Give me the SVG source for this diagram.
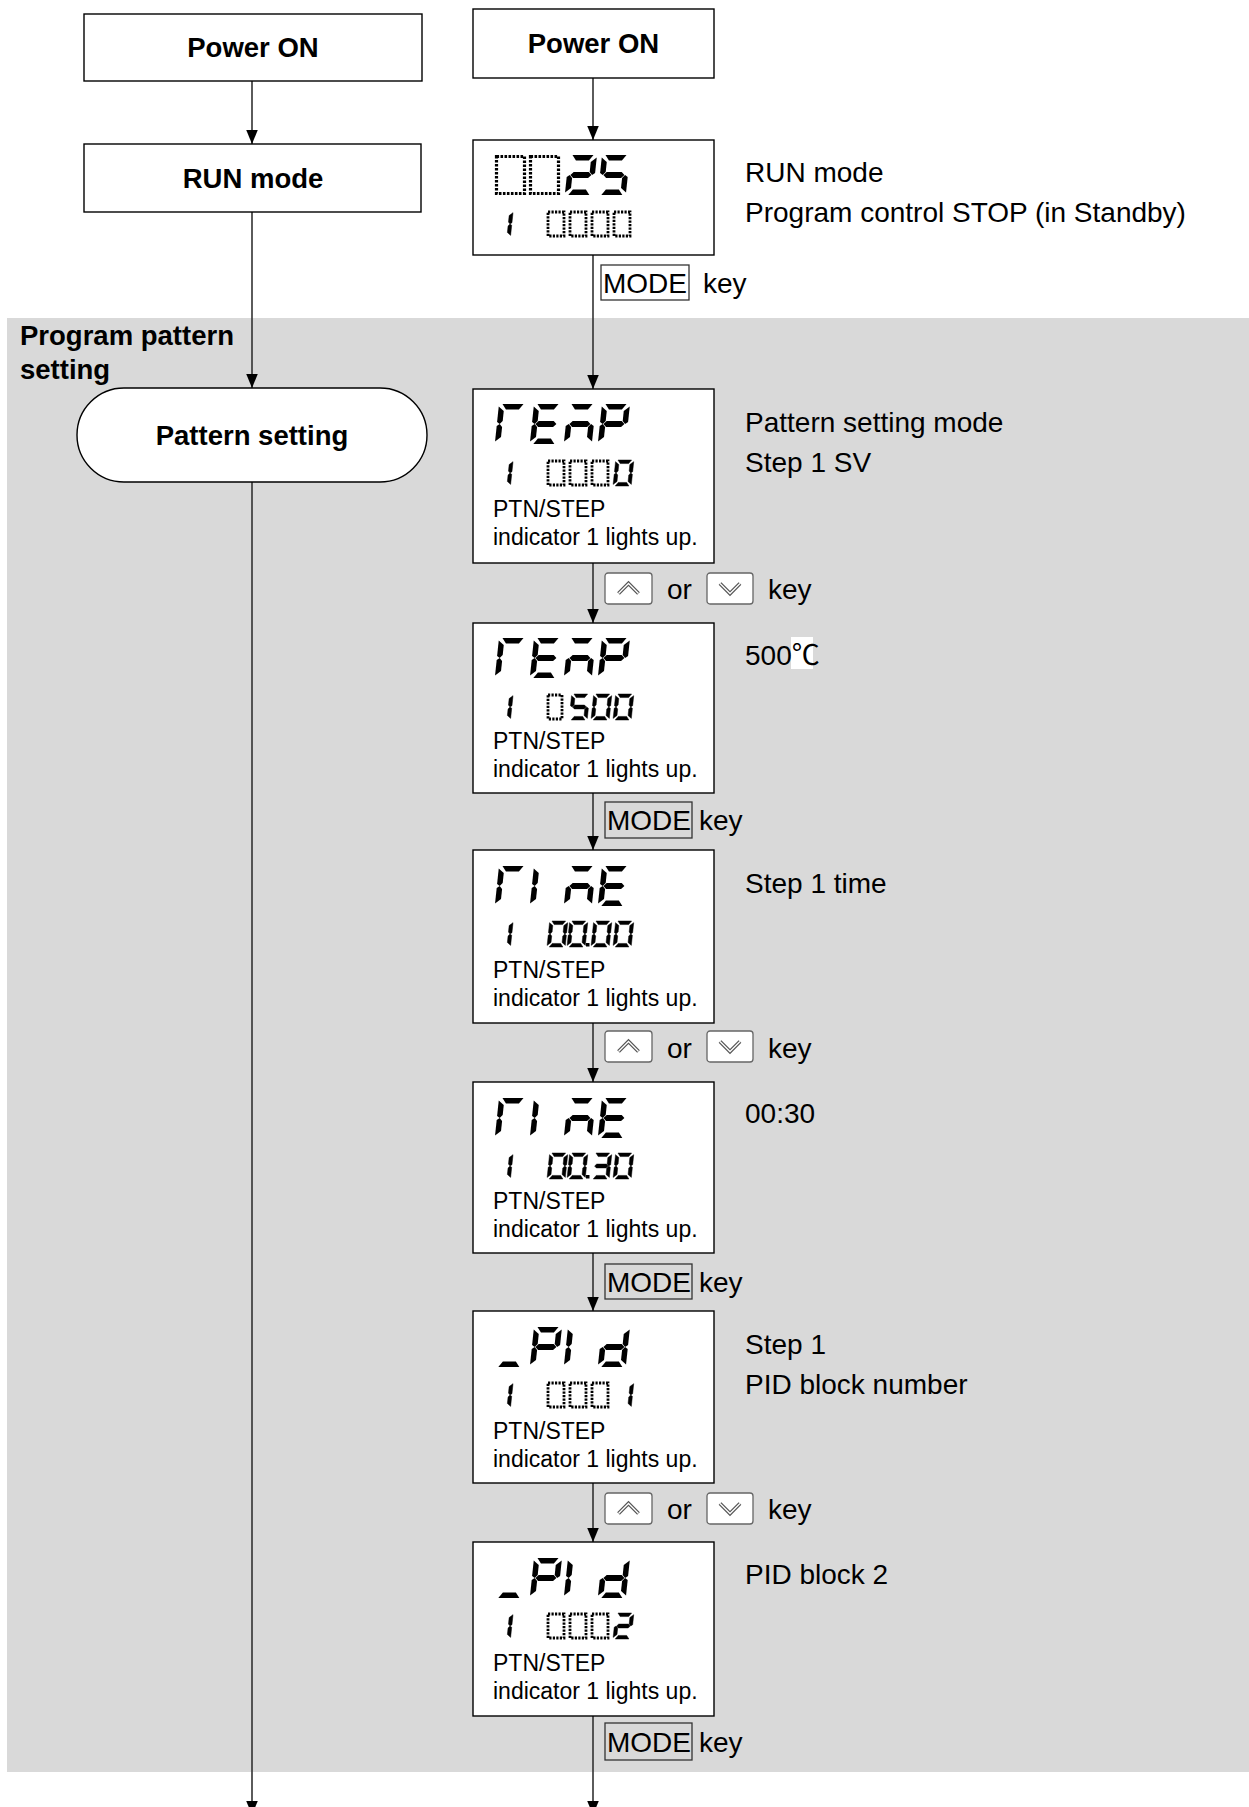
<svg xmlns="http://www.w3.org/2000/svg" xmlns:xlink="http://www.w3.org/1999/xlink" width="1249" height="1807" viewBox="0 0 1249 1807">
<style>
.t{font-family:"Liberation Sans",Arial,"Noto Sans CJK JP",sans-serif;font-size:28px;fill:#000}
.b{font-weight:bold;font-size:27.5px}
.sm{font-size:23px}
.box{fill:#fff;stroke:#000;stroke-width:1.4}
.conn{stroke:#333;stroke-width:1.6;fill:none}
.key{fill:#fff;stroke:#666;stroke-width:1.3}
.chev{fill:none;stroke:#555;stroke-width:3.8;stroke-linejoin:miter}
.chevi{fill:none;stroke:#fff;stroke-width:1.3}
.mode{fill:none;stroke:#333;stroke-width:1.3}
.dotL{fill:none;stroke:#000;stroke-width:3.2;stroke-dasharray:2.6 1.4}
.dotS{fill:none;stroke:#000;stroke-width:2.8;stroke-dasharray:2.2 1.3}
.seg{fill:#000}
.s7{stroke:#000;stroke-width:0.7;stroke-linejoin:round}
</style>
<defs>
<marker id="arr" viewBox="0 0 17 14" markerWidth="14" markerHeight="17" refX="17" refY="7" orient="auto" markerUnits="userSpaceOnUse">
<path d="M0,0 L17,7 L0,14 Z" fill="#000"/>
</marker>
<polygon id="sa" class="seg" points="3.5,0 24.5,0 20.5,5.5 7.5,5.5"/>
<polygon id="sf" class="seg" points="0,2.5 5.5,7 5.5,17 2.8,20 0,18"/>
<polygon id="sb" class="seg" points="28,2.5 28,18 25.2,20 22.5,17 22.5,7"/>
<polygon id="sg" class="seg" points="3.5,20 6.5,17 21.5,17 24.5,20 21.5,23 6.5,23"/>
<polygon id="se" class="seg" points="0,22 2.8,20 5.5,23 5.5,33 0,37.5"/>
<polygon id="sc" class="seg" points="28,22 28,37.5 22.5,33 22.5,23 25.2,20"/>
<polygon id="sd" class="seg" points="7.5,34.5 20.5,34.5 24.5,40 3.5,40"/>
<g id="cT"><use xlink:href="#sa"/><use xlink:href="#sf"/><use xlink:href="#se"/></g>
<g id="cE"><use xlink:href="#sa"/><use xlink:href="#sf"/><use xlink:href="#sg"/><use xlink:href="#se"/><use xlink:href="#sd"/></g>
<g id="cM"><use xlink:href="#sa"/><use xlink:href="#sg"/><use xlink:href="#se"/><use xlink:href="#sc"/></g>
<g id="cP"><use xlink:href="#sa"/><use xlink:href="#sb"/><use xlink:href="#sf"/><use xlink:href="#sg"/><use xlink:href="#se"/></g>
<g id="cI"><use xlink:href="#sf"/><use xlink:href="#se"/></g>
<g id="cU"><use xlink:href="#sd"/></g>
<g id="cd"><use xlink:href="#sb"/><use xlink:href="#sc"/><use xlink:href="#sd"/><use xlink:href="#se"/><use xlink:href="#sg"/></g>
<g id="c0"><use xlink:href="#sa"/><use xlink:href="#sb"/><use xlink:href="#sc"/><use xlink:href="#sd"/><use xlink:href="#se"/><use xlink:href="#sf"/></g>
<g id="c1"><use xlink:href="#sb"/><use xlink:href="#sc"/></g>
<g id="c2"><use xlink:href="#sa"/><use xlink:href="#sb"/><use xlink:href="#sg"/><use xlink:href="#se"/><use xlink:href="#sd"/></g>
<g id="c3"><use xlink:href="#sa"/><use xlink:href="#sb"/><use xlink:href="#sg"/><use xlink:href="#sc"/><use xlink:href="#sd"/></g>
<g id="c5"><use xlink:href="#sa"/><use xlink:href="#sf"/><use xlink:href="#sg"/><use xlink:href="#sc"/><use xlink:href="#sd"/></g>
<g id="upkey"><rect class="key" x="0" y="0" width="47" height="31" rx="3"/><polyline class="chev" points="13.5,20.5 23.5,10.5 33.5,20.5"/><polyline class="chevi" points="13.5,20.5 23.5,10.5 33.5,20.5"/></g>
<g id="dnkey"><rect class="key" x="0" y="0" width="46" height="31" rx="3"/><polyline class="chev" points="13,10.5 23,20.5 33,10.5"/><polyline class="chevi" points="13,10.5 23,20.5 33,10.5"/></g>
</defs>

<rect id="shade" x="7" y="318" width="1242" height="1454" fill="#d9d9d9"/>

<g id="connectors">
<line class="conn" x1="252" y1="81" x2="252" y2="144" marker-end="url(#arr)"/>
<line class="conn" x1="252" y1="212" x2="252" y2="388" marker-end="url(#arr)"/>
<line class="conn" x1="252" y1="482" x2="252" y2="1815" marker-end="url(#arr)"/>
<line class="conn" x1="593" y1="78" x2="593" y2="140" marker-end="url(#arr)"/>
<line class="conn" x1="593" y1="255" x2="593" y2="389" marker-end="url(#arr)"/>
<line class="conn" x1="593" y1="563" x2="593" y2="623" marker-end="url(#arr)"/>
<line class="conn" x1="593" y1="793" x2="593" y2="850" marker-end="url(#arr)"/>
<line class="conn" x1="593" y1="1023" x2="593" y2="1082" marker-end="url(#arr)"/>
<line class="conn" x1="593" y1="1253" x2="593" y2="1311" marker-end="url(#arr)"/>
<line class="conn" x1="593" y1="1483" x2="593" y2="1542" marker-end="url(#arr)"/>
<line class="conn" x1="593" y1="1716" x2="593" y2="1815" marker-end="url(#arr)"/>
</g>

<g id="left-power-on">
<rect class="box" x="84" y="14" width="338" height="67"/>
<text class="t b" x="253" y="57" text-anchor="middle">Power ON</text>
</g>
<g id="left-run-mode">
<rect class="box" x="84" y="144" width="337" height="68"/>
<text class="t b" x="253" y="188" text-anchor="middle">RUN mode</text>
</g>
<g id="section-label">
<text class="t b" x="20" y="345">Program pattern</text>
<text class="t b" x="20" y="379">setting</text>
</g>
<g id="pattern-setting">
<rect class="box" x="77" y="388" width="350" height="94" rx="47" ry="47"/>
<text class="t b" x="252" y="445" text-anchor="middle">Pattern setting</text>
</g>

<g id="right-power-on">
<rect class="box" x="473" y="9" width="241" height="69"/>
<text class="t b" x="593.5" y="53" text-anchor="middle">Power ON</text>
</g>

<g id="disp1">
<rect class="box" x="473" y="140" width="241" height="115"/>
<rect class="dotL" x="496.5" y="156.5" width="28" height="37"/>
<rect class="dotL" x="530.5" y="156.5" width="28" height="37"/>
<use xlink:href="#c2" transform="translate(569,155) skewX(-6)"/>
<use xlink:href="#c5" transform="translate(602,155) skewX(-6)"/>
<use class="s7" xlink:href="#c1" transform="translate(495,211) skewX(-6) scale(0.65)"/>
<rect class="dotS" x="548" y="212" width="16" height="24"/>
<rect class="dotS" x="570" y="212" width="16" height="24"/>
<rect class="dotS" x="592" y="212" width="16" height="24"/>
<rect class="dotS" x="614" y="212" width="16" height="24"/>
</g>
<g id="desc1">
<text class="t" x="745" y="182">RUN mode</text>
<text class="t" x="745" y="222">Program control STOP (in Standby)</text>
</g>
<g id="modekey1">
<rect class="mode" x="601" y="265" width="88" height="35"/>
<text class="t" x="603" y="293">MODE</text>
<text class="t" x="703" y="293">key</text>
</g>

<g id="disp2">
<rect class="box" x="473" y="389" width="241" height="174"/>
<use xlink:href="#cT" transform="translate(499,404) skewX(-6)"/>
<use xlink:href="#cE" transform="translate(534,404) skewX(-6)"/>
<use xlink:href="#cM" transform="translate(568,404) skewX(-6)"/>
<use xlink:href="#cP" transform="translate(602,404) skewX(-6)"/>
<use class="s7" xlink:href="#c1" transform="translate(495,460) skewX(-6) scale(0.65)"/>
<rect class="dotS" x="548" y="461" width="16" height="24"/>
<rect class="dotS" x="570" y="461" width="16" height="24"/>
<rect class="dotS" x="592" y="461" width="16" height="24"/>
<use class="s7" xlink:href="#c0" transform="translate(615.7,460) skewX(-6) scale(0.65)"/>
<text class="t sm" x="493" y="517">PTN/STEP</text>
<text class="t sm" x="493" y="545">indicator 1 lights up.</text>
</g>
<g id="desc2">
<text class="t" x="745" y="432">Pattern setting mode</text>
<text class="t" x="745" y="472">Step 1 SV</text>
</g>
<g id="keys1">
<use xlink:href="#upkey" x="605" y="573"/>
<text class="t" x="667" y="599">or</text>
<use xlink:href="#dnkey" x="707" y="573"/>
<text class="t" x="768" y="599">key</text>
</g>

<g id="disp3">
<rect class="box" x="473" y="623" width="241" height="170"/>
<use xlink:href="#cT" transform="translate(499,638) skewX(-6)"/>
<use xlink:href="#cE" transform="translate(534,638) skewX(-6)"/>
<use xlink:href="#cM" transform="translate(568,638) skewX(-6)"/>
<use xlink:href="#cP" transform="translate(602,638) skewX(-6)"/>
<use class="s7" xlink:href="#c1" transform="translate(495,694) skewX(-6) scale(0.65)"/>
<rect class="dotS" x="548" y="695" width="14" height="24"/>
<use class="s7" xlink:href="#c5" transform="translate(571.7,694) skewX(-6) scale(0.65)"/>
<use class="s7" xlink:href="#c0" transform="translate(593.7,694) skewX(-6) scale(0.65)"/>
<use class="s7" xlink:href="#c0" transform="translate(615.7,694) skewX(-6) scale(0.65)"/>
<text class="t sm" x="493" y="749">PTN/STEP</text>
<text class="t sm" x="493" y="777">indicator 1 lights up.</text>
</g>
<g id="desc3">
<rect x="791" y="637" width="22" height="32" fill="#fff"/>
<text class="t" x="745" y="665">500<tspan>℃</tspan></text>
</g>
<g id="modekey2">
<rect class="mode" x="605" y="802" width="87" height="36"/>
<text class="t" x="607" y="830">MODE</text>
<text class="t" x="699" y="830">key</text>
</g>

<g id="disp4">
<rect class="box" x="473" y="850" width="241" height="173"/>
<use xlink:href="#cT" transform="translate(499,866) skewX(-6)"/>
<use xlink:href="#cI" transform="translate(534,866) skewX(-6)"/>
<use xlink:href="#cM" transform="translate(568,866) skewX(-6)"/>
<use xlink:href="#cE" transform="translate(602,866) skewX(-6)"/>
<use class="s7" xlink:href="#c1" transform="translate(495,921) skewX(-6) scale(0.65)"/>
<use class="s7" xlink:href="#c0" transform="translate(549.7,921) skewX(-6) scale(0.65)"/>
<use class="s7" xlink:href="#c0" transform="translate(569.7,921) skewX(-6) scale(0.65)"/>
<rect x="586" y="943" width="3.5" height="3.5"/>
<use class="s7" xlink:href="#c0" transform="translate(593.7,921) skewX(-6) scale(0.65)"/>
<use class="s7" xlink:href="#c0" transform="translate(615.7,921) skewX(-6) scale(0.65)"/>
<text class="t sm" x="493" y="978">PTN/STEP</text>
<text class="t sm" x="493" y="1006">indicator 1 lights up.</text>
</g>
<g id="desc4">
<text class="t" x="745" y="893">Step 1 time</text>
</g>
<g id="keys2">
<use xlink:href="#upkey" x="605" y="1031"/>
<text class="t" x="667" y="1058">or</text>
<use xlink:href="#dnkey" x="707" y="1031"/>
<text class="t" x="768" y="1058">key</text>
</g>

<g id="disp5">
<rect class="box" x="473" y="1082" width="241" height="171"/>
<use xlink:href="#cT" transform="translate(499,1098) skewX(-6)"/>
<use xlink:href="#cI" transform="translate(534,1098) skewX(-6)"/>
<use xlink:href="#cM" transform="translate(568,1098) skewX(-6)"/>
<use xlink:href="#cE" transform="translate(602,1098) skewX(-6)"/>
<use class="s7" xlink:href="#c1" transform="translate(495,1153) skewX(-6) scale(0.65)"/>
<use class="s7" xlink:href="#c0" transform="translate(549.7,1153) skewX(-6) scale(0.65)"/>
<use class="s7" xlink:href="#c0" transform="translate(569.7,1153) skewX(-6) scale(0.65)"/>
<rect x="586" y="1175" width="3.5" height="3.5"/>
<use class="s7" xlink:href="#c3" transform="translate(593.7,1153) skewX(-6) scale(0.65)"/>
<use class="s7" xlink:href="#c0" transform="translate(615.7,1153) skewX(-6) scale(0.65)"/>
<text class="t sm" x="493" y="1209">PTN/STEP</text>
<text class="t sm" x="493" y="1237">indicator 1 lights up.</text>
</g>
<g id="desc5">
<text class="t" x="745" y="1123">00:30</text>
</g>
<g id="modekey3">
<rect class="mode" x="605" y="1264" width="87" height="35"/>
<text class="t" x="607" y="1292">MODE</text>
<text class="t" x="699" y="1292">key</text>
</g>

<g id="disp6">
<rect class="box" x="473" y="1311" width="241" height="172"/>
<use xlink:href="#cU" transform="translate(499,1327) skewX(-6)"/>
<use xlink:href="#cP" transform="translate(534,1327) skewX(-6)"/>
<use xlink:href="#cI" transform="translate(568,1327) skewX(-6)"/>
<use xlink:href="#cd" transform="translate(602,1327) skewX(-6)"/>
<use class="s7" xlink:href="#c1" transform="translate(495,1382) skewX(-6) scale(0.65)"/>
<rect class="dotS" x="548" y="1383" width="16" height="24"/>
<rect class="dotS" x="570" y="1383" width="16" height="24"/>
<rect class="dotS" x="592" y="1383" width="16" height="24"/>
<use class="s7" xlink:href="#c1" transform="translate(615.7,1382) skewX(-6) scale(0.65)"/>
<text class="t sm" x="493" y="1439">PTN/STEP</text>
<text class="t sm" x="493" y="1467">indicator 1 lights up.</text>
</g>
<g id="desc6">
<text class="t" x="745" y="1354">Step 1</text>
<text class="t" x="745" y="1394">PID block number</text>
</g>
<g id="keys3">
<use xlink:href="#upkey" x="605" y="1493"/>
<text class="t" x="667" y="1519">or</text>
<use xlink:href="#dnkey" x="707" y="1493"/>
<text class="t" x="768" y="1519">key</text>
</g>

<g id="disp7">
<rect class="box" x="473" y="1542" width="241" height="174"/>
<use xlink:href="#cU" transform="translate(499,1558) skewX(-6)"/>
<use xlink:href="#cP" transform="translate(534,1558) skewX(-6)"/>
<use xlink:href="#cI" transform="translate(568,1558) skewX(-6)"/>
<use xlink:href="#cd" transform="translate(602,1558) skewX(-6)"/>
<use class="s7" xlink:href="#c1" transform="translate(495,1613) skewX(-6) scale(0.65)"/>
<rect class="dotS" x="548" y="1614" width="16" height="24"/>
<rect class="dotS" x="570" y="1614" width="16" height="24"/>
<rect class="dotS" x="592" y="1614" width="16" height="24"/>
<use class="s7" xlink:href="#c2" transform="translate(615.7,1613) skewX(-6) scale(0.65)"/>
<text class="t sm" x="493" y="1671">PTN/STEP</text>
<text class="t sm" x="493" y="1699">indicator 1 lights up.</text>
</g>
<g id="desc7">
<text class="t" x="745" y="1584">PID block 2</text>
</g>
<g id="modekey4">
<rect class="mode" x="605" y="1723" width="87" height="37"/>
<text class="t" x="607" y="1752">MODE</text>
<text class="t" x="699" y="1752">key</text>
</g>
</svg>
